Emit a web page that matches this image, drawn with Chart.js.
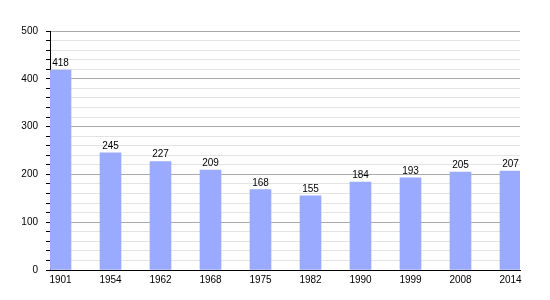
<!DOCTYPE html>
<html>
<head>
<meta charset="utf-8">
<script src="https://cdn.jsdelivr.net/npm/chart.js@4"></script>
<style>
  html, body { margin: 0; padding: 0; background: #fff; }
  #wrap { width: 550px; height: 300px; }
</style>
</head>
<body>
<div id="wrap"><canvas id="popChart" width="550" height="300"></canvas></div>
<script>
const years = ['1901', '1954', '1962', '1968', '1975', '1982', '1990', '1999', '2008', '2014'];
const population = [418, 245, 227, 209, 168, 155, 184, 193, 205, 207];
const yTicks = [0, 100, 200, 300, 400, 500];

Chart.defaults.font.family = '"Liberation Sans", Arial, sans-serif';
Chart.defaults.font.size = 10;
Chart.defaults.color = '#000';

// value labels on top of each bar
const barLabels = {
  id: 'barLabels',
  afterDatasetsDraw(chart) {
    const ctx = chart.ctx;
    const meta = chart.getDatasetMeta(0);
    ctx.save();
    ctx.font = '10px "Liberation Sans", Arial, sans-serif';
    ctx.fillStyle = '#000';
    ctx.textAlign = 'center';
    ctx.textBaseline = 'alphabetic';
    meta.data.forEach((bar, i) => {
      ctx.fillText(population[i], bar.x, bar.y - 4);
    });
    ctx.restore();
  }
};

const ctx = document.getElementById('popChart').getContext('2d');
new Chart(ctx, {
  type: 'bar',
  data: {
    datasets: [{
      data: population.map((v, i) => ({ x: i, y: v })),
      backgroundColor: '#99aaff',
      borderWidth: 0,
      barThickness: 21
    }]
  },
  options: {
    responsive: false,
    animation: false,
    layout: { padding: { left: 0, right: 30, top: 31, bottom: 0 } },
    plugins: {
      legend: { display: false },
      tooltip: { enabled: false }
    },
    scales: {
      x: {
        type: 'linear',
        offset: false,
        min: -0.21,
        max: 9.19,
        afterBuildTicks: (scale) => {
          scale.ticks = years.map((y, i) => ({ value: i }));
        },
        afterFit: (scale) => { scale.height = 30; },
        grid: { display: false, offset: false, drawTicks: false },
        border: { color: '#000', width: 1 },
        ticks: {
          autoSkip: false,
          maxRotation: 0,
          padding: 4,
          callback: (v) => years[v]
        }
      },
      y: {
        min: 0,
        max: 500,
        afterFit: (scale) => { scale.width = 50; },
        border: { color: '#000', width: 1 },
        grid: {
          color: (c) => (c.tick && c.tick.value % 100 === 0) ? '#aaaaaa' : '#e3e3e3',
          tickColor: '#000',
          tickLength: 4
        },
        ticks: {
          stepSize: 20,
          autoSkip: false,
          padding: 8,
          callback: (v) => yTicks.includes(v) ? v : ''
        }
      }
    }
  },
  plugins: [barLabels]
});
</script>
</body>
</html>
